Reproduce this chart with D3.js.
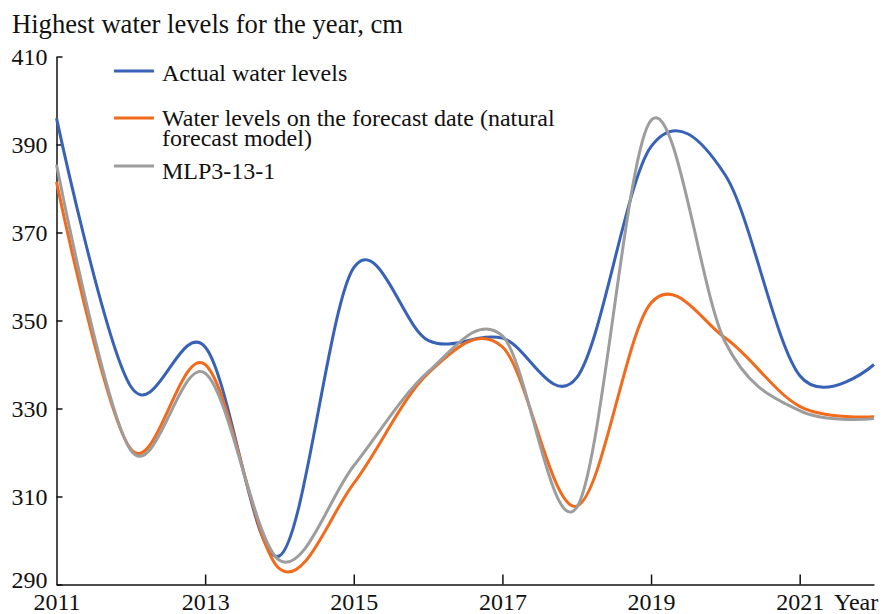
<!DOCTYPE html>
<html>
<head>
<meta charset="utf-8">
<script src="https://cdn.jsdelivr.net/npm/d3@7"></script>
<style>
  body { margin: 0; background: #fff; }
  svg { display: block; }
  text { font-family: "Liberation Serif", "Times New Roman", serif; fill: #111; }
</style>
</head>
<body>
<svg id="chart" width="886" height="614"></svg>
<script>
// Highest annual water levels, cm
const years = [2011, 2012, 2013, 2014, 2015, 2016, 2017, 2018, 2019, 2020, 2021, 2022];
const actualLevels   = [396.0, 335.0, 344.0, 296.5, 362.0, 345.5, 346.0, 337.0, 389.5, 383.0, 337.5, 340.0];
const naturalModel   = [381.5, 320.8, 340.0, 293.6, 313.0, 338.0, 344.0, 307.8, 354.0, 346.0, 330.5, 328.1];
const mlpModel       = [385.4, 320.5, 338.0, 295.5, 317.0, 338.3, 346.5, 307.5, 395.5, 345.0, 329.5, 327.7];

const seriesLabels = [
  ["Actual water levels"],
  ["Water levels on the forecast date (natural", "forecast model)"],
  ["MLP3-13-1"]
];
const seriesColors = ["#3762b6", "#f26b1d", "#9d9d9d"];

const yTickValues = [290, 310, 330, 350, 370, 390, 410];
const xTickValues = [2011, 2013, 2015, 2017, 2019, 2021];
const yAxisTitle = "Highest water levels for the year, cm";
const xAxisTitle = "Year";

const svg = d3.select("#chart");

const x = d3.scaleLinear().domain([2011, 2022]).range([56.5, 874]);
const y = d3.scaleLinear().domain([290, 410]).range([584.5, 56.5]);

const seriesData = [actualLevels, naturalModel, mlpModel];

// Axes
const yAxis = d3.axisLeft(y).tickValues(yTickValues).tickSizeInner(-6).tickSizeOuter(0).tickPadding(9);
const xAxis = d3.axisBottom(x).tickValues(xTickValues).tickSizeInner(-10).tickSizeOuter(0).tickPadding(8).tickFormat(d3.format("d"));

const gy = svg.append("g").attr("transform", `translate(${x(2011)},0)`).call(yAxis);
const gx = svg.append("g").attr("transform", `translate(0,${y(290)})`).call(xAxis);

[gx, gy].forEach(g => {
  g.select(".domain").attr("stroke", "#111").attr("stroke-width", 1.5);
  g.selectAll(".tick line").attr("stroke", "#111").attr("stroke-width", 1.5);
  g.selectAll(".tick text").attr("font-family", "Liberation Serif, serif").attr("font-size", 24).attr("fill", "#111");
});
gx.selectAll(".tick").filter(d => d === 2011).select("line").remove();
// lowest value label sits a little above its tick, clear of the year labels
gy.selectAll(".tick").filter(d => d === 290).select("text").attr("y", -5);

// Axis titles
svg.append("text")
  .attr("x", 12).attr("y", 33)
  .attr("font-size", 26.6)
  .text(yAxisTitle);

svg.append("text")
  .attr("x", 834).attr("y", 610)
  .attr("font-size", 24)
  .text(xAxisTitle);

// Smoothed series lines
const line = d3.line()
  .x((d, i) => x(years[i]))
  .y(d => y(d))
  .curve(d3.curveCatmullRom.alpha(0));

svg.append("g").selectAll("path")
  .data(seriesData)
  .join("path")
  .attr("d", d => line(d))
  .attr("fill", "none")
  .attr("stroke", (d, i) => seriesColors[i])
  .attr("stroke-width", 3)
  .attr("stroke-linejoin", "round");

// Legend
const legendRows = [
  { ly: 71, ty: 81 },
  { ly: 118, ty: 126 },
  { ly: 166, ty: 179 }
];
const legend = svg.append("g");
seriesLabels.forEach((lines, i) => {
  legend.append("line")
    .attr("x1", 114).attr("x2", 154)
    .attr("y1", legendRows[i].ly).attr("y2", legendRows[i].ly)
    .attr("stroke", seriesColors[i]).attr("stroke-width", 3);
  const t = legend.append("text")
    .attr("x", 162).attr("y", legendRows[i].ty)
    .attr("font-size", 24);
  lines.forEach((s, j) => {
    t.append("tspan").attr("x", 162).attr("dy", j === 0 ? 0 : 20).text(s);
  });
});
</script>
</body>
</html>
